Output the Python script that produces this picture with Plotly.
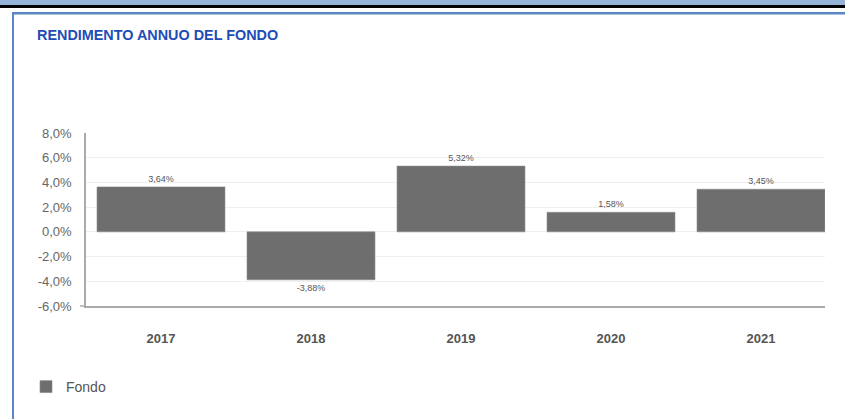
import plotly.graph_objects as go

# ---- data ----
years = ["2017", "2018", "2019", "2020", "2021"]
fondo = [3.64, -3.88, 5.32, 1.58, 3.45]
series_name = "Fondo"
title_text = "RENDIMENTO ANNUO DEL FONDO"
y_tick_vals = [-6, -4, -2, 0, 2, 4, 6, 8]
y_tick_labels = ["-6,0%", "-4,0%", "-2,0%", "0,0%", "2,0%", "4,0%", "6,0%", "8,0%"]

bar_labels = [f"{v:.2f}".replace(".", ",") + "%" for v in fondo]

W, H = 845, 419
L, R, T, B = 86, 825, 133, 306  # plot area in pixels
FONT = "Liberation Sans, Arial, Helvetica, sans-serif"


def px(x):
    return (x - L) / (R - L)


def py(y):
    return (B - y) / (B - T)


fig = go.Figure()
fig.add_trace(go.Bar(
    x=years, y=fondo, name=series_name,
    marker=dict(color="#6E6E6E", line=dict(color="#8A8A8A", width=0.6)),
    text=bar_labels, textposition="outside", cliponaxis=False,
    textfont=dict(family=FONT, size=9, color="#555555"),
    showlegend=True,
))

shapes = [
    # top light blue band and black line
    dict(type="rect", xref="paper", yref="paper", x0=px(-2), x1=px(W + 2), y0=py(0 - 2), y1=py(5),
         fillcolor="#95B3D7", line=dict(width=0), layer="above"),
    dict(type="rect", xref="paper", yref="paper", x0=px(-2), x1=px(W + 2), y0=py(5), y1=py(8),
         fillcolor="#000000", line=dict(width=0), layer="above"),
    # frame lines
    dict(type="rect", xref="paper", yref="paper", x0=px(12), x1=px(W + 2), y0=py(12), y1=py(14.5),
         fillcolor="#5A86C6", line=dict(width=0), layer="above"),
    dict(type="rect", xref="paper", yref="paper", x0=px(12), x1=px(14), y0=py(12), y1=py(H + 2),
         fillcolor="#5A86C6", line=dict(width=0), layer="above"),
    # small overhang of the x axis line
    dict(type="line", xref="paper", yref="paper", x0=px(80), x1=px(86), y0=0, y1=0,
         line=dict(color="#AAAAAA", width=1.5), layer="above"),
]

fig.update_layout(
    width=W, height=H,
    margin=dict(l=L, r=W - R, t=T, b=H - B, pad=0),
    paper_bgcolor="white", plot_bgcolor="white",
    font=dict(family=FONT, color="#666666"),
    bargap=0.147,
    title=dict(text="<b>" + title_text + "</b>", xref="container", yref="container",
               x=37 / W, xanchor="left", y=1 - 35 / H, yanchor="middle",
               font=dict(family=FONT, size=14.4, color="#1E4DB7")),
    xaxis=dict(
        type="category", range=[-0.5, 4.4267],
        showgrid=False, showline=True, linecolor="#AAAAAA", linewidth=1.5,
        ticks="", ticklabelstandoff=20,
        tickfont=dict(family=FONT, size=13, color="#555555", weight="bold"),
        fixedrange=True,
    ),
    yaxis=dict(
        range=[-6, 8], tickvals=y_tick_vals, ticktext=y_tick_labels,
        showgrid=True, gridcolor="#EFEFEF", gridwidth=1,
        zeroline=False, showline=True, linecolor="#AAAAAA", linewidth=1.5,
        ticks="", ticklabelstandoff=10,
        tickfont=dict(family=FONT, size=13, color="#666666"),
        fixedrange=True,
    ),
    legend=dict(
        xref="container", yref="container", x=26 / W, xanchor="left",
        y=1 - 387 / H, yanchor="middle", orientation="h",
        font=dict(family=FONT, size=14, color="#555555"),
        bgcolor="rgba(0,0,0,0)",
    ),
    shapes=shapes,
)

fig.write_html("out.html")
